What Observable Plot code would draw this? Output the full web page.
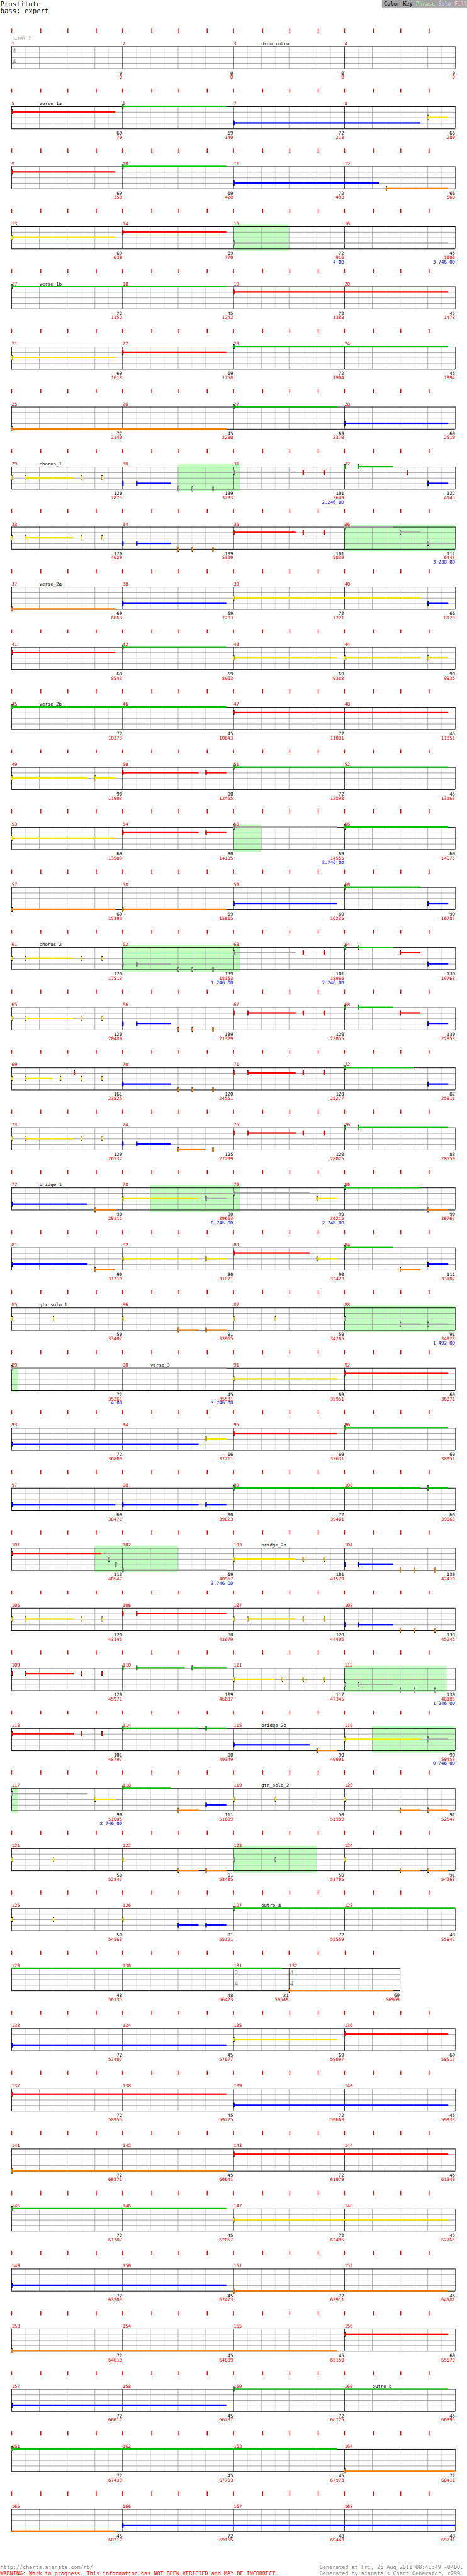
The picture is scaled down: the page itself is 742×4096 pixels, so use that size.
<!DOCTYPE html>
<html><head><meta charset="utf-8">
<script src="https://cdn.jsdelivr.net/npm/d3@7"></script>
<script src="https://cdn.jsdelivr.net/npm/@observablehq/plot@0.6"></script>
<style>html,body{margin:0;padding:0;background:#fff}</style>
</head><body><div id="chart"></div>
<script>
// ---------------- DATA ----------------
const songTitle = "Prostitute";
const songPart = "bass; expert";
const tempoMark = "\u2669=107.2";
const colorKey = [["Color Key", "#000000"], ["Phrase", "#b8ffb8"], ["Solo", "#d0d0ff"], ["Fill", "#ffc0c0"]];
const footerLeft = ["http://charts.ajanata.com/rb/", "WARNING: Work in progress. This information has NOT BEEN VERIFIED and MAY BE INCORRECT."];
const footerRight = ["Generated at Fri, 26 Aug 2011 08:41:49 -0400.", "Generated by ajanata's Chart Generator, r299."];

// [measure, numerator, denominator]
const timeSignatures = [[1, 4, 4], [131, 2, 4], [132, 4, 4]];
// [measure, offset in 16ths, name]
const sections = [[3,4,"drum_intro"],[5,4,"verse_1a"],[17,4,"verse_1b"],[29,4,"chorus_1"],[37,4,"verse_2a"],[45,4,"verse_2b"],[61,4,"chorus_2"],[77,4,"bridge_1"],[85,4,"gtr_solo_1"],[90,4,"verse_3"],[103,4,"bridge_2a"],[115,4,"bridge_2b"],[119,4,"gtr_solo_2"],[127,4,"outro_a"],[160,4,"outro_b"]];

// notes per lane: [measure, offset (16ths), sustain length (16ths)]
const greenNotes = [[6,0,15],[10,0,15],[17,0,31],[23,0,31],[27,0,15],[32,0,0],[32,2,5],[36,0,7],[42,0,15],[45,0,31],[51,0,31],[55,0,15],[56,0,15],[60,0,11],[64,0,0],[64,2,5],[68,0,0],[68,2,5],[72,0,10],[76,0,0],[76,2,13],[80,0,11],[84,0,7],[89,0,31],[96,0,15],[99,0,27],[100,12,3],[110,0,0],[110,2,7],[110,10,5],[114,0,11],[114,12,3],[118,0,7],[127,0,71],[145,0,31],[159,0,31],[161,0,47]];
const redNotes = [[5,0,15],[9,0,15],[14,0,15],[19,0,31],[22,0,15],[31,0,9],[31,10,0],[31,13,0],[32,9,0],[35,0,9],[35,10,0],[35,13,0],[36,8,3],[41,0,15],[47,0,31],[50,0,11],[50,12,3],[54,0,11],[54,12,3],[63,0,9],[63,10,0],[63,13,0],[64,8,3],[67,0,0],[67,2,7],[67,10,0],[67,13,0],[68,8,3],[69,9,0],[71,0,0],[71,2,7],[71,10,0],[71,13,0],[75,0,0],[75,2,7],[75,10,0],[75,13,0],[79,0,11],[83,0,11],[92,0,15],[95,0,15],[101,0,13],[106,0,0],[106,2,13],[109,0,0],[109,2,7],[109,10,0],[109,13,0],[113,0,9],[113,10,0],[113,13,0],[117,0,11],[136,0,15],[137,0,31],[143,0,31],[156,0,15]];
const yellowNotes = [[8,12,3],[13,0,15],[21,0,15],[29,0,0],[29,2,7],[29,10,0],[29,13,0],[33,0,0],[33,2,7],[33,10,0],[33,13,0],[39,0,27],[43,0,15],[44,0,11],[44,12,3],[49,0,11],[49,12,3],[53,0,15],[61,0,0],[61,2,7],[61,10,0],[61,13,0],[65,0,0],[65,2,7],[65,10,0],[65,13,0],[69,0,0],[69,2,4],[69,7,0],[69,10,0],[69,13,0],[73,0,0],[73,2,7],[73,10,0],[73,13,0],[78,0,11],[78,12,3],[79,12,3],[82,0,11],[82,12,3],[83,12,3],[85,0,0],[85,6,0],[86,0,0],[87,0,0],[87,6,0],[88,0,0],[91,0,15],[94,12,3],[101,14,0],[103,0,9],[103,10,0],[103,13,0],[105,0,0],[105,2,7],[105,10,0],[105,13,0],[107,0,0],[107,2,7],[107,10,0],[107,13,0],[111,0,6],[111,7,0],[111,10,0],[111,13,0],[116,0,11],[116,12,3],[117,12,3],[119,0,0],[119,6,0],[120,0,0],[121,0,0],[121,6,0],[122,0,0],[123,0,0],[123,6,0],[124,0,0],[125,0,0],[125,6,0],[126,0,0],[135,0,15],[147,0,31]];
const blueNotes = [[7,0,27],[11,0,21],[15,0,31],[28,0,15],[30,0,0],[30,2,5],[32,12,3],[34,0,0],[34,2,5],[36,12,3],[38,0,15],[40,12,3],[59,0,15],[60,12,3],[62,0,0],[62,2,5],[64,12,3],[66,0,0],[66,2,5],[68,12,3],[70,0,7],[72,12,3],[74,0,0],[74,2,5],[77,0,11],[81,0,11],[84,12,3],[88,8,3],[88,12,3],[93,0,27],[97,0,15],[98,0,11],[98,12,3],[101,15,0],[104,0,0],[104,2,5],[108,0,0],[108,2,5],[112,0,0],[112,2,5],[115,0,11],[118,12,3],[126,8,3],[126,12,3],[133,0,31],[139,0,31],[149,0,31],[157,0,31],[166,0,48]];
const orangeNotes = [[12,6,9],[25,0,31],[30,8,0],[30,10,0],[30,13,0],[34,8,0],[34,10,0],[34,13,0],[37,0,15],[57,0,15],[58,0,15],[62,8,0],[62,10,0],[62,13,0],[66,8,0],[66,10,0],[66,13,0],[70,8,0],[70,10,0],[70,13,0],[74,8,4],[74,13,0],[77,12,3],[80,12,3],[81,12,3],[84,8,3],[86,8,3],[86,12,3],[102,0,15],[104,8,0],[104,10,0],[104,13,0],[108,8,0],[108,10,0],[108,13,0],[112,8,0],[112,10,0],[112,13,0],[115,12,3],[118,8,3],[120,8,3],[120,12,3],[122,8,3],[122,12,3],[124,8,3],[124,12,3],[132,0,15],[141,0,31],[151,0,31],[153,0,47],[164,0,31]];

// overdrive phrases: [startMeasure, startOffset, endMeasure, endOffset]
const phrases = [[15,0,15,8],[30,8,31,1],[36,0,37,0],[55,0,55,4],[62,0,63,1],[78,4,79,1],[88,0,89,1],[101,12,102,8],[112,0,112,14.75],[116,4,117,1],[123,0,123,12]];

// per-measure score (black) and running total (red), measures 1..168
const measureScores = [0,0,0,0, 69,69,72,66, 69,69,72,66, 69,69,72,45, 72,45,72,45, 69,69,72,45, 72,45,69,69, 120,139,101,122, 120,139,101,111, 69,69,72,66, 69,69,69,90, 72,45,72,45, 90,90,72,45, 69,90,69,69, 69,69,69,90, 120,139,101,130, 120,139,120,130, 161,120,120,87, 120,125,120,88, 90,90,90,90, 90,90,90,111, 50,91,50,91, 72,45,69,69, 72,66,69,69, 69,90,72,66, 113,69,101,139, 120,88,120,139, 120,109,117,139, 101,90,90,90, 90,111,50,91, 50,91,50,91, 50,91,72,48, 48,48,21,69,
  72,45,69,69, 72,45,72,45, 72,45,72,45, 72,45,72,45, 72,45,72,45, 72,45,45,69, 72,45,72,45, 72,45,45,72, 45,72,48,48];
const runningScores = [0,0,0,0, 70,140,213,280, 350,420,493,560, 630,770,916,1006, 1152,1242,1388,1478, 1618,1758,1904,1994, 2140,2230,2370,2510, 2873,3293,3649,4145, 4629,5329,5839,6443, 6863,7283,7721,8123, 8543,8963,9383,9935, 10373,10643,11081,11351, 11903,12455,12893,13163, 13583,14135,14555,14975, 15395,15815,16235,16787, 17513,18353,18965,19763, 20489,21329,22055,22853, 23825,24551,25277,25811, 26537,27299,28025,28559, 29111,29663,30215,30767, 31319,31871,32423,33107, 33407,33965,34265,34823, 35261,35531,35951,36371, 36809,37211,37631,38051, 38471,39023,39461,39863, 40547,40967,41579,42419, 43145,43679,44405,45245, 45971,46637,47345,48185, 48797,49349,49901,50453, 51005,51689,51989,52547, 52847,53405,53705,54263, 54563,55121,55559,55847, 56135,56423,56549,56969,
  57407,57677,58097,58517, 58955,59225,59663,59933, 60371,60641,61079,61349, 61787,62057,62495,62765, 63203,63473,63911,64181, 64619,64889,65159,65579, 66017,66287,66725,66995, 67433,67703,67973,68411, 68717,69155,69443,69731];
// overdrive meter readings shown under a measure end: [measure, text]
const odReadings = [[15,"4 OD"],[16,"3.746 OD"],[31,"2.246 OD"],[36,"3.238 OD"],[55,"3.746 OD"],[62,"1.246 OD"],[63,"2.246 OD"],[78,"0.746 OD"],[79,"2.746 OD"],[88,"1.492 OD"],[89,"4 OD"],[90,"3.746 OD"],[102,"3.746 OD"],[112,"1.246 OD"],[116,"0.746 OD"],[117,"2.746 OD"]];
// beat marker offsets inside a measure (16ths)
const beatMarkOffsets = [0, 4.2, 8.1, 12.2];

// ---------------- LAYOUT ----------------
const W = 742, H = 4096, REF_W = 1010, REF_H = 5575;
const k = W / REF_W;
const ROW_PITCH = 130, STAFF_TOP = 100, LANE = 12, STAFF_LEFT = 24.5, PX16 = 15;
const FONT = "DejaVu Sans Mono, Liberation Mono, monospace";
const pxToT = px => (px - STAFF_LEFT) / PX16;
const laneColors = ["#00c000", "#ff0000", "#f8e400", "#0000ff", "#ff8000"];
const odNoteColor = "#a8a8a8";

const nMeasures = measureScores.length;
const measLen = [], measStart = [];
let curLen = 16, acc = 0;
for (let m = 1; m <= nMeasures; m++) {
  const ts = timeSignatures.find(d => d[0] === m);
  if (ts) curLen = ts[1] * 16 / ts[2];
  measLen[m] = curLen; measStart[m] = acc; acc += curLen;
}
measStart[nMeasures + 1] = acc;
const nRows = Math.ceil(nMeasures / 4);
const rowOf = m => Math.floor((m - 1) / 4);
const rowStartT = d3.range(nRows).map(r => measStart[4 * r + 1]);
const rowEndT = d3.range(nRows).map(r => measStart[Math.min(4 * r + 5, nMeasures + 1)]);
const rowTop = r => STAFF_TOP + r * ROW_PITCH;
const T = (m, off) => measStart[m] + off;

function split(t0, t1) {
  const out = [];
  for (let r = 0; r < nRows; r++) {
    const a = rowStartT[r], b = rowEndT[r];
    if (t1 <= a || t0 >= b) continue;
    out.push({row: r, x1: Math.max(t0, a) - a, x2: Math.min(t1, b) - a});
  }
  return out;
}

const phraseT = phrases.map(([m0, o0, m1, o1]) => ({a: T(m0, o0), b: T(m1, o1)}));
const inPhrase = t => phraseT.some(p => t >= p.a && t < p.b);

const phraseBoxes = phraseT.flatMap(p => split(p.a, p.b).map(s => ({x1: s.x1, x2: s.x2, y1: rowTop(s.row) - 5, y2: rowTop(s.row) + 4 * LANE + 5})));

const allNotes = [greenNotes, redNotes, yellowNotes, blueNotes, orangeNotes].flatMap((arr, lane) =>
  arr.map(([m, off, len]) => {
    const t = T(m, off);
    return {lane, t, len, color: inPhrase(t) ? odNoteColor : laneColors[lane]};
  }));
const sustains = allNotes.filter(n => n.len > 0).flatMap(n =>
  split(n.t, n.t + n.len).map(s => ({x1: s.x1, x2: s.x2, y: rowTop(s.row) + n.lane * LANE, color: n.color})));
const heads = allNotes.map(n => {
  const r = rowStartT.findIndex((a, i) => n.t >= a && n.t < rowEndT[i]);
  return {x: n.t - rowStartT[r], y: rowTop(r) + n.lane * LANE, color: n.color};
});

// grid
const rowsArr = d3.range(nRows).map(r => ({r, width: rowEndT[r] - rowStartT[r], top: rowTop(r)}));
const laneLines = rowsArr.flatMap(R => [1, 2, 3].map(i => ({x1: 0, x2: R.width, y: R.top + i * LANE})));
const borderH = rowsArr.flatMap(R => [0, 4].map(i => ({x1: 0, x2: R.width, y: R.top + i * LANE})));
const measures = d3.range(1, nMeasures + 1).map(m => {
  const r = rowOf(m);
  return {m, r, x0: measStart[m] - rowStartT[r], x1: measStart[m] + measLen[m] - rowStartT[r], top: rowTop(r), len: measLen[m]};
});
const eighthLines = [], beatLines = [], barLines = [], beatMarks = [];
for (const M of measures) {
  barLines.push({x: M.x0, y1: M.top, y2: M.top + 4 * LANE});
  for (let s = 2; s < M.len; s += 2) {
    const d = {x: M.x0 + s, y1: M.top, y2: M.top + 4 * LANE};
    (s % 4 === 0 ? beatLines : eighthLines).push(d);
  }
  for (let b = 0; b < M.len / 4; b++) beatMarks.push({x: M.x0 + beatMarkOffsets[b], y1: M.top - 38.3, y2: M.top - 29.3});
}
rowsArr.forEach(R => barLines.push({x: R.width, y1: R.top, y2: R.top + 4 * LANE}));

// texts
const measureLabels = measures.map(M => ({x: M.x0, y: M.top - 3.3, text: String(M.m)}));
const sectionLabels = sections.map(([m, off, name]) => {
  const r = rowOf(m);
  return {x: T(m, off) - rowStartT[r], y: rowTop(r) - 3.3, text: name};
});
const scoreLabels = measures.filter(M => measureScores[M.m - 1] != null).map(M => ({x: M.x1, y: M.top + 4 * LANE + 12.7, text: String(measureScores[M.m - 1])}));
const totalLabels = measures.filter(M => runningScores[M.m - 1] != null).map(M => ({x: M.x1, y: M.top + 4 * LANE + 22, text: String(runningScores[M.m - 1])}));
const odLabels = odReadings.map(([m, txt]) => {
  const M = measures[m - 1];
  return {x: M.x1, y: M.top + 4 * LANE + 31, text: txt};
});
const tsLabels = timeSignatures.flatMap(([m, num, den]) => {
  const M = measures[m - 1];
  return [{x: M.x0 + 0.1, y: M.top + 15, text: String(num)}, {x: M.x0 + 0.1, y: M.top + 38.3, text: String(den)}];
});

// header/footer anchors (reference pixel layout -> x units)
const keyX = [829.6, 898.8, 947.2, 981.8];
const keyItems = colorKey.map(([t, c], i) => ({x: pxToT(keyX[i]), y: 11.8, text: t, color: c}));
const titleItems = [{x: pxToT(0), y: 13.3, text: songTitle}, {x: pxToT(0), y: 27.5, text: songPart}];
const footL = [{x: pxToT(0), y: 5559, text: footerLeft[0], color: "#888888", w: "normal"}, {x: pxToT(0), y: 5572.5, text: footerLeft[1], color: "#ff0000", w: "bold"}];
const footR = footerRight.map((t, i) => ({x: pxToT(1001.5), y: i ? 5572.5 : 5559, text: t}));

const fs = px => px * k;
const txt = (data, opts) => Plot.text(data, {x: "x", y: "y", text: "text", lineAnchor: "bottom", fontFamily: FONT, ...opts});

const chart = Plot.plot({
  width: W, height: H, margin: 0,
  x: {type: "linear", domain: [pxToT(0), pxToT(REF_W)], range: [0, W], axis: null},
  y: {type: "linear", domain: [0, REF_H], range: [0, H], axis: null},
  color: {type: "identity"},
  style: {background: "#ffffff"},
  marks: [
    Plot.rect([{x1: pxToT(826), x2: pxToT(REF_W), y1: 0, y2: 16}], {x1: "x1", x2: "x2", y1: "y1", y2: "y2", fill: "#a4a4a4"}),
    txt(keyItems, {fill: d => d.color, fontSize: fs(11.5), textAnchor: "start"}),
    txt(titleItems, {fill: "#000", fontSize: fs(14.5), textAnchor: "start"}),
    txt([{x: 0, y: rowTop(0) - 14, text: tempoMark}], {fill: "#999", fontSize: fs(10), textAnchor: "start"}),
    Plot.ruleX(beatMarks, {x: "x", y1: "y1", y2: "y2", stroke: "#ff0000", strokeWidth: fs(2)}),
    Plot.rect(phraseBoxes, {x1: "x1", x2: "x2", y1: "y1", y2: "y2", fill: "#c0ffc0"}),
    Plot.ruleX(eighthLines, {x: "x", y1: "y1", y2: "y2", stroke: "#dcdcdc", strokeWidth: fs(1)}),
    Plot.ruleX(beatLines, {x: "x", y1: "y1", y2: "y2", stroke: "#999999", strokeWidth: fs(1)}),
    Plot.ruleY(laneLines, {y: "y", x1: "x1", x2: "x2", stroke: "#999999", strokeWidth: fs(1.2)}),
    Plot.ruleX(barLines, {x: "x", y1: "y1", y2: "y2", stroke: "#000", strokeWidth: fs(1.1)}),
    Plot.ruleY(borderH, {y: "y", x1: "x1", x2: "x2", stroke: "#000", strokeWidth: fs(1.3)}),
    txt(tsLabels, {fill: "#999", fontSize: fs(14), textAnchor: "start"}),
    Plot.rect(sustains, {x1: "x1", x2: "x2", y1: d => d.y - 1.5, y2: d => d.y + 1.5, fill: "color"}),
    Plot.rect(heads, {x1: "x", x2: d => d.x + 2.6 / PX16, y1: d => d.y - 5.3, y2: d => d.y + 5.3, fill: "#000"}),
    Plot.rect(heads, {x1: "x", x2: d => d.x + 2.6 / PX16, y1: d => d.y - 4.2, y2: d => d.y + 4.2, fill: "color"}),
    txt(measureLabels, {fill: "#e00000", fontSize: fs(10), textAnchor: "start"}),
    txt(sectionLabels, {fill: "#000", fontSize: fs(10), textAnchor: "start"}),
    txt(scoreLabels, {fill: "#000", fontSize: fs(10), textAnchor: "end", dx: -fs(1)}),
    txt(totalLabels, {fill: "#e00000", fontSize: fs(10), textAnchor: "end", dx: -fs(1)}),
    txt(odLabels, {fill: "#0000cc", fontSize: fs(10), textAnchor: "end", dx: -fs(1)}),
    txt(footL, {fill: d => d.color, fontWeight: d => d.w, fontSize: fs(11.5), textAnchor: "start"}),
    txt(footR, {fill: "#888888", fontSize: fs(11.5), textAnchor: "end"})
  ]
});
document.getElementById("chart").append(chart);
</script>
</body></html>
